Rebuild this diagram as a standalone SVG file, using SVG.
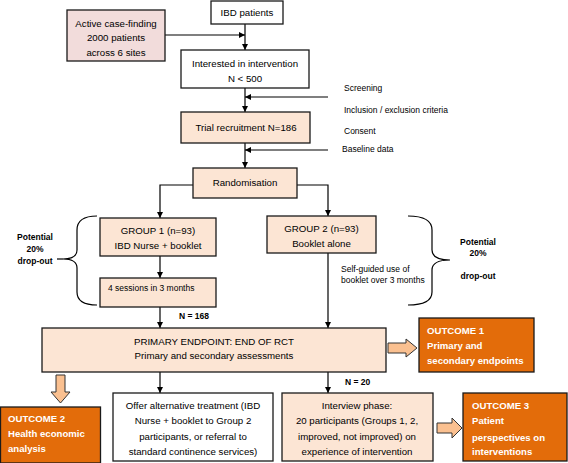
<svg xmlns="http://www.w3.org/2000/svg" width="568" height="463" viewBox="0 0 568 463">
<defs>
<marker id="ah" viewBox="0 0 10 10" refX="10" refY="5" markerWidth="6" markerHeight="6" orient="auto" markerUnits="userSpaceOnUse">
<path d="M0,0 L10,5 L0,10 z" fill="#000"/>
</marker>
<style>
.box{stroke:#1a1a1a;stroke-width:1.3}
.w{fill:#fff}
.pk{fill:#f2dcdb}
.pe{fill:#fce5d4}
.or{fill:#e36c0a}
.t{font-family:"Liberation Sans",Arial,sans-serif;font-size:9.7px;fill:#000}
.c{text-anchor:middle}
.s{font-family:"Liberation Sans",Arial,sans-serif;font-size:8.5px;fill:#000}
.b{font-weight:bold}
.ot{font-family:"Liberation Sans",Arial,sans-serif;font-size:9.6px;font-weight:bold;fill:#fff}
.ln{stroke:#000;stroke-width:1.2;fill:none}
.ba{fill:#fac090;stroke:#333;stroke-width:1}
</style>
</defs>

<g id="connectors">
<path class="ln" d="M245,24 V50" marker-end="url(#ah)"/>
<path class="ln" d="M165,35 H245" marker-end="url(#ah)"/>
<path class="ln" d="M245,88 V112" marker-end="url(#ah)"/>
<path class="ln" d="M328,97 H245" marker-end="url(#ah)"/>
<path class="ln" d="M245,143 V168" marker-end="url(#ah)"/>
<path class="ln" d="M328,150 H245" marker-end="url(#ah)"/>
<path class="ln" d="M193,185 H160 V218" marker-end="url(#ah)"/>
<path class="ln" d="M297,185 H328 V216" marker-end="url(#ah)"/>
<path class="ln" d="M160,256 V278" marker-end="url(#ah)"/>
<path class="ln" d="M160,307 V328" marker-end="url(#ah)"/>
<path class="ln" d="M328,253 V328" marker-end="url(#ah)"/>
<path class="ln" d="M160,372 V393" marker-end="url(#ah)"/>
<path class="ln" d="M328,372 V393" marker-end="url(#ah)"/>
<path class="ln" d="M97,216 C84,216 77,220 77,230 V250 C77,256 72,259 63,259 C72,259 77,262 77,268 V292 C77,301 84,305 97,305"/>
<path class="ln" d="M57,259 H63"/>
<path class="ln" d="M408,216 C424,216 432,220 432,230 V250 C432,256 438,260 450,260 C438,260 432,264 432,270 V292 C432,301 424,305 408,305"/>
<path class="ba" d="M388,343 H406 V339 L417,348 L406,357 V353 H388 z"/>
<path class="ba" d="M56,375 H65 V392 H70 L60.5,403 L51,392 H56 z"/>
<path class="ba" d="M437,423 H452 V418 L462,428 L452,438 V433 H437 z"/>
</g>

<g id="ibd"><rect class="box w" x="211" y="1" width="72" height="23"/><text class="t c" x="247" y="16">IBD patients</text></g>
<g id="casefinding"><rect class="box pk" x="67" y="10" width="98" height="51"/>
<text class="t c" x="116" y="26.5">Active case-finding</text>
<text class="t c" x="116" y="40.5">2000 patients</text>
<text class="t c" x="116" y="55.5">across 6 sites</text></g>
<g id="interested"><rect class="box w" x="181" y="50" width="128" height="38"/>
<text class="t c" x="245" y="66.5">Interested in intervention</text>
<text class="t c" x="245" y="81.5">N &lt; 500</text></g>
<g id="screening">
<text class="s" x="344" y="91">Screening</text>
<text class="s" x="344" y="113">Inclusion / exclusion criteria</text>
<text class="s" x="344" y="134">Consent</text>
<text class="s" x="342" y="152">Baseline data</text></g>
<g id="recruitment"><rect class="box pe" x="181" y="112" width="129" height="31"/>
<text class="t c" x="246" y="130.5">Trial recruitment N=186</text></g>
<g id="random"><rect class="box pe" x="193" y="168" width="104" height="30"/>
<text class="t c" x="245" y="185.5">Randomisation</text></g>
<g id="group1"><rect class="box pe" x="100" y="218" width="116" height="38"/>
<text class="t c" x="158" y="233.5">GROUP 1 (n=93)</text>
<text class="t c" x="158" y="248.5">IBD Nurse + booklet</text></g>
<g id="group2"><rect class="box pe" x="267" y="216" width="109" height="37"/>
<text class="t c" x="321.5" y="231.5">GROUP 2 (n=93)</text>
<text class="t c" x="321.5" y="246.5">Booklet alone</text></g>
<g id="sessions"><rect class="box pe" x="100" y="278" width="116" height="29"/>
<text class="s" x="108" y="291">4 sessions in 3 months</text></g>
<g id="labels">
<text class="s b" x="179" y="319">N = 168</text>
<text class="s" x="341" y="272">Self-guided use of</text>
<text class="s" x="341" y="283">booklet over 3 months</text>
<text class="s b c" x="478" y="245">Potential</text>
<text class="s b c" x="478" y="256">20%</text>
<text class="s b c" x="478" y="279">drop-out</text>
<text class="s b c" x="35" y="240">Potential</text>
<text class="s b c" x="35" y="252">20%</text>
<text class="s b c" x="35" y="264">drop-out</text>
<text class="s b" x="345" y="385">N = 20</text>
</g>
<g id="primary"><rect class="box pe" x="42" y="328" width="344" height="44"/>
<text class="t c" x="214" y="344.5">PRIMARY ENDPOINT: END OF RCT</text>
<text class="t c" x="214" y="358.5">Primary and secondary assessments</text></g>
<g id="outcome1"><rect class="box or" x="419" y="318" width="115" height="54"/>
<text class="ot" x="427" y="333.5">OUTCOME 1</text>
<text class="ot" x="427" y="348.5">Primary and</text>
<text class="ot" x="427" y="363.5">secondary endpoints</text></g>
<g id="outcome2"><rect class="box or" x="0.5" y="407" width="100" height="56"/>
<text class="ot" x="8" y="421.5">OUTCOME 2</text>
<text class="ot" x="8" y="436.5">Health economic</text>
<text class="ot" x="8" y="451.5">analysis</text></g>
<g id="offer"><rect class="box w" x="113" y="393" width="160" height="68"/>
<text class="t c" x="193" y="408.5">Offer alternative treatment (IBD</text>
<text class="t c" x="193" y="423.5">Nurse + booklet to Group 2</text>
<text class="t c" x="193" y="439.5">participants, or referral to</text>
<text class="t c" x="193" y="454.5">standard continence services)</text></g>
<g id="interview"><rect class="box pe" x="282" y="393" width="151" height="68"/>
<text class="t c" x="357" y="408.5">Interview phase:</text>
<text class="t c" x="357" y="423.5">20 participants (Groups 1, 2,</text>
<text class="t c" x="357" y="439.5">improved, not improved) on</text>
<text class="t c" x="357" y="454.5">experience of intervention</text></g>
<g id="outcome3"><rect class="box or" x="463" y="393" width="104" height="68"/>
<text class="ot" x="472" y="408.5">OUTCOME 3</text>
<text class="ot" x="472" y="423.5">Patient</text>
<text class="ot" x="472" y="440.5">perspectives on</text>
<text class="ot" x="472" y="454.5">interventions</text></g>
</svg>
